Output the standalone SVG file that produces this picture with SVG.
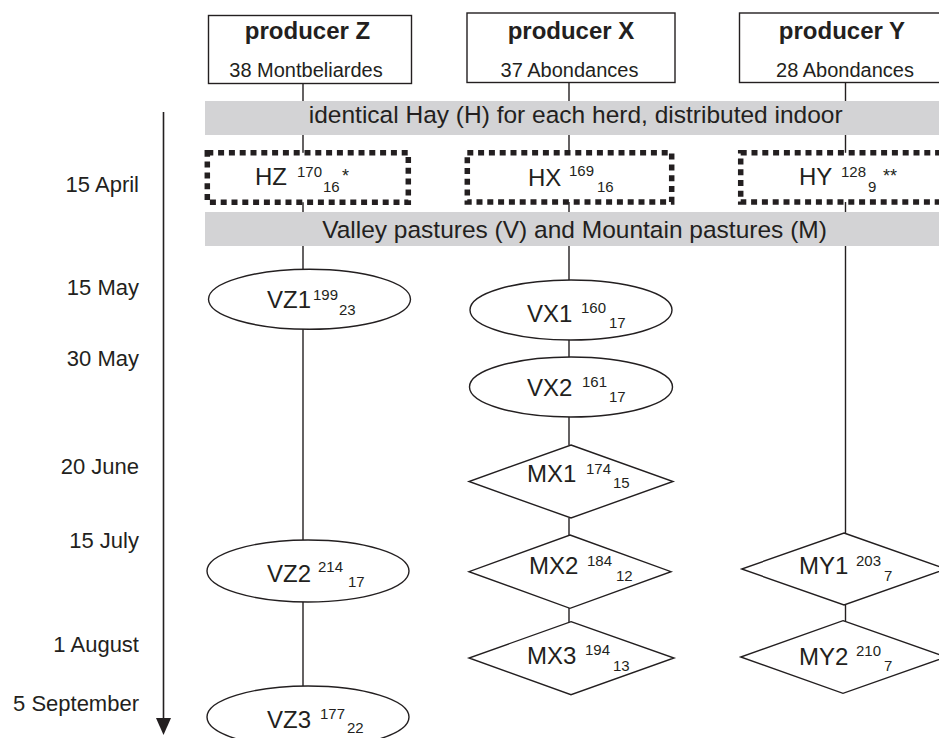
<svg xmlns="http://www.w3.org/2000/svg" width="939" height="738" viewBox="0 0 939 738">
<defs>
<style>
text{font-family:"Liberation Sans",Arial,Helvetica,sans-serif;fill:#231f20}
.title{font-size:24px;font-weight:bold;text-anchor:middle}
.sub{font-size:20px;text-anchor:middle}
.band{fill:#d3d3d5;stroke:none}
.bandtxt{font-size:24.5px;text-anchor:middle}
.date{font-size:22px;text-anchor:end}
.lbl{font-size:24px}
.s{font-size:15px}
.ast{font-size:18px}
.shape{fill:#fff;stroke:#231f20;stroke-width:1.4}
.dot{fill:#fff;stroke:#231f20;stroke-width:5.5;stroke-dasharray:6 4.8}
.conn{stroke:#231f20;stroke-width:1.4;fill:none}
</style>
</defs>
<rect width="939" height="738" fill="#fff"/>

<g id="connectors">
<line class="conn" x1="303" y1="83" x2="303" y2="153"/>
<line class="conn" x1="303" y1="202" x2="303" y2="270"/>
<line class="conn" x1="303" y1="329" x2="303" y2="540"/>
<line class="conn" x1="303" y1="602" x2="303" y2="686"/>
<line class="conn" x1="569" y1="82" x2="569" y2="153"/>
<line class="conn" x1="569" y1="202" x2="569" y2="280"/>
<line class="conn" x1="569" y1="340" x2="569" y2="357"/>
<line class="conn" x1="569" y1="417" x2="569" y2="445"/>
<line class="conn" x1="569" y1="518" x2="569" y2="535"/>
<line class="conn" x1="569" y1="608" x2="569" y2="622"/>
<line class="conn" x1="845.5" y1="82" x2="845.5" y2="153"/>
<line class="conn" x1="845.5" y1="202" x2="845.5" y2="533"/>
<line class="conn" x1="845.5" y1="605" x2="845.5" y2="621"/>
</g>

<g id="timeline">
<line x1="163.5" y1="112" x2="163.5" y2="720" stroke="#231f20" stroke-width="1.6"/>
<polygon points="156,718 171,718 163.5,735" fill="#231f20"/>
<text class="date" x="139" y="192">15 April</text>
<text class="date" x="139" y="295">15 May</text>
<text class="date" x="139" y="366">30 May</text>
<text class="date" x="139" y="474">20 June</text>
<text class="date" x="139" y="548">15 July</text>
<text class="date" x="139" y="652">1 August</text>
<text class="date" x="139" y="711">5 September</text>
</g>

<g id="producerZ">
<rect class="shape" x="208.5" y="15.5" width="203" height="68"/>
<text class="title" x="307.5" y="39">producer Z</text>
<text class="sub" x="306" y="77">38 Montbeliardes</text>
</g>
<g id="producerX">
<rect class="shape" x="467" y="13" width="208" height="69.5"/>
<text class="title" x="571" y="39">producer X</text>
<text class="sub" x="569.5" y="77">37 Abondances</text>
</g>
<g id="producerY">
<rect class="shape" x="739.5" y="13" width="210" height="69.5"/>
<text class="title" x="842" y="39">producer Y</text>
<text class="sub" x="845" y="77">28 Abondances</text>
</g>

<g id="hayBand">
<rect class="band" x="205" y="101" width="740" height="34"/>
<text class="bandtxt" x="575.7" y="123">identical Hay (H) for each herd, distributed indoor</text>
</g>

<g id="HZ">
<rect class="dot" x="207.3" y="152.8" width="201" height="49.4"/>
<text class="lbl" x="255" y="185">HZ<tspan class="s" x="297" y="177">170</tspan><tspan class="s" x="323" y="192">16</tspan><tspan class="ast" x="342" y="182">*</tspan></text>
</g>
<g id="HX">
<rect class="dot" x="467.3" y="152.8" width="204.4" height="49.2"/>
<text class="lbl" x="528" y="186">HX<tspan class="s" x="569" y="176">169</tspan><tspan class="s" x="597" y="192">16</tspan></text>
</g>
<g id="HY">
<rect class="dot" x="740.7" y="152.8" width="205" height="49.2"/>
<text class="lbl" x="799" y="185">HY<tspan class="s" x="841" y="177">128</tspan><tspan class="s" x="868" y="192">9</tspan><tspan class="ast" x="883" y="182">**</tspan></text>
</g>

<g id="pastureBand">
<rect class="band" x="205" y="212" width="740" height="34"/>
<text class="bandtxt" x="574.5" y="238">Valley pastures (V) and Mountain pastures (M)</text>
</g>

<g id="VZ1">
<ellipse class="shape" cx="309.5" cy="299.3" rx="101" ry="30"/>
<text class="lbl" x="267" y="308">VZ1<tspan class="s" x="313" y="300">199</tspan><tspan class="s" x="339" y="315">23</tspan></text>
</g>
<g id="VZ2">
<ellipse class="shape" cx="308" cy="571" rx="101" ry="31"/>
<text class="lbl" x="267" y="582">VZ2<tspan class="s" x="318" y="572">214</tspan><tspan class="s" x="348" y="587">17</tspan></text>
</g>
<g id="VZ3">
<ellipse class="shape" cx="308" cy="717" rx="101" ry="31"/>
<text class="lbl" x="267" y="728">VZ3<tspan class="s" x="320" y="719">177</tspan><tspan class="s" x="347" y="733">22</tspan></text>
</g>

<g id="VX1">
<ellipse class="shape" cx="571" cy="310" rx="101" ry="30"/>
<text class="lbl" x="527" y="322">VX1<tspan class="s" x="581" y="313">160</tspan><tspan class="s" x="609" y="328">17</tspan></text>
</g>
<g id="VX2">
<ellipse class="shape" cx="571" cy="387" rx="101.5" ry="30"/>
<text class="lbl" x="527" y="396">VX2<tspan class="s" x="582" y="387">161</tspan><tspan class="s" x="609" y="402">17</tspan></text>
</g>
<g id="MX1">
<polygon class="shape" points="571,445 673,481.5 571,518 469,481.5"/>
<text class="lbl" x="527" y="482">MX1<tspan class="s" x="586" y="474">174</tspan><tspan class="s" x="613" y="488">15</tspan></text>
</g>
<g id="MX2">
<polygon class="shape" points="570,535 671,571.7 570,608.3 469,571.7"/>
<text class="lbl" x="529" y="574">MX2<tspan class="s" x="587" y="566">184</tspan><tspan class="s" x="616" y="581">12</tspan></text>
</g>
<g id="MX3">
<polygon class="shape" points="571,621.7 674,658 571,694.7 469,658"/>
<text class="lbl" x="527" y="664">MX3<tspan class="s" x="585" y="655">194</tspan><tspan class="s" x="613" y="671">13</tspan></text>
</g>
<g id="MY1">
<polygon class="shape" points="844,533 946,569 844,605 741.7,569"/>
<text class="lbl" x="799" y="574">MY1<tspan class="s" x="856" y="566">203</tspan><tspan class="s" x="884" y="581">7</tspan></text>
</g>
<g id="MY2">
<polygon class="shape" points="843,620.7 946,657 843,693.3 740.7,657"/>
<text class="lbl" x="799" y="665">MY2<tspan class="s" x="856" y="656">210</tspan><tspan class="s" x="884" y="671">7</tspan></text>
</g>
</svg>
